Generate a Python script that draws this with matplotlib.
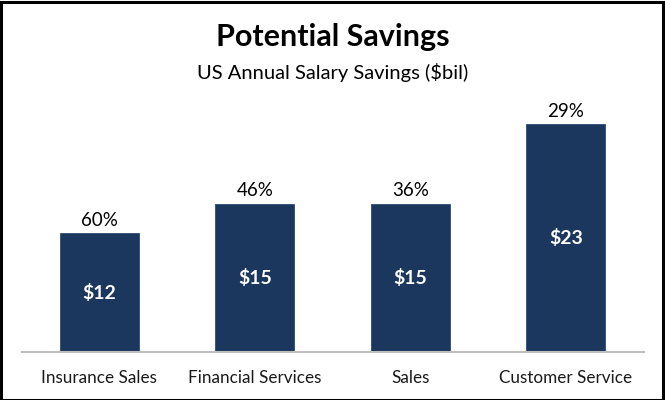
import matplotlib
matplotlib.use("Agg")
import matplotlib.pyplot as plt
from matplotlib.patches import Rectangle

categories = ["Insurance Sales", "Financial Services", "Sales", "Customer Service"]
savings = [12, 15, 15, 23]
pct_labels = ["60%", "46%", "36%", "29%"]
value_labels = ["$12", "$15", "$15", "$23"]

W, H = 665, 400
fig = plt.figure(figsize=(W / 100, H / 100), dpi=100)
plt.rcParams['font.family'] = ['Lato', 'DejaVu Sans']

bar_color = "#1b375d"

ax = fig.add_axes([21.5 / W, (H - 352) / H, 622 / W, 252 / H])
x = range(len(categories))
bars = ax.bar(x, savings, width=0.51, color=bar_color, edgecolor="#2c4a73", linewidth=0.6, zorder=2)
ax.set_xlim(-0.5, len(categories) - 0.5)
ax.set_ylim(0, 252 / 9.9)
for s in ["top", "right", "left"]:
    ax.spines[s].set_visible(False)
ax.spines["bottom"].set_color("#bfbfbf")
ax.spines["bottom"].set_linewidth(1.5)
ax.set_yticks([])
ax.set_xticks(list(x))
ax.set_xticklabels(categories, fontsize=12.3, color="#1a1a1a")
ax.tick_params(axis="x", length=0, pad=13)

for xi, v, p, val in zip(x, savings, pct_labels, value_labels):
    ax.annotate(p, (xi, v), xytext=(0, 3), textcoords="offset points",
                ha="center", va="bottom", fontsize=13.5, color="#000000")
    ax.text(xi, v / 2, val, ha="center", va="center", fontsize=14,
            fontweight="bold", color="white")

fig.text(0.5, 1 - 37 / H, "Potential Savings", ha="center", va="center",
         fontsize=22, fontweight="bold", color="black")
fig.text(0.5, 1 - 73 / H, "US Annual Salary Savings ($bil)", ha="center", va="center",
         fontsize=14.5, color="black")

fig.patches.append(Rectangle((0.5 / W, 0.5 / H), 1 - 2.5 / W, 1 - 2.5 / H,
                             transform=fig.transFigure, fill=False,
                             edgecolor="black", linewidth=2.2, zorder=10))

fig.savefig("out.png", dpi=100)
